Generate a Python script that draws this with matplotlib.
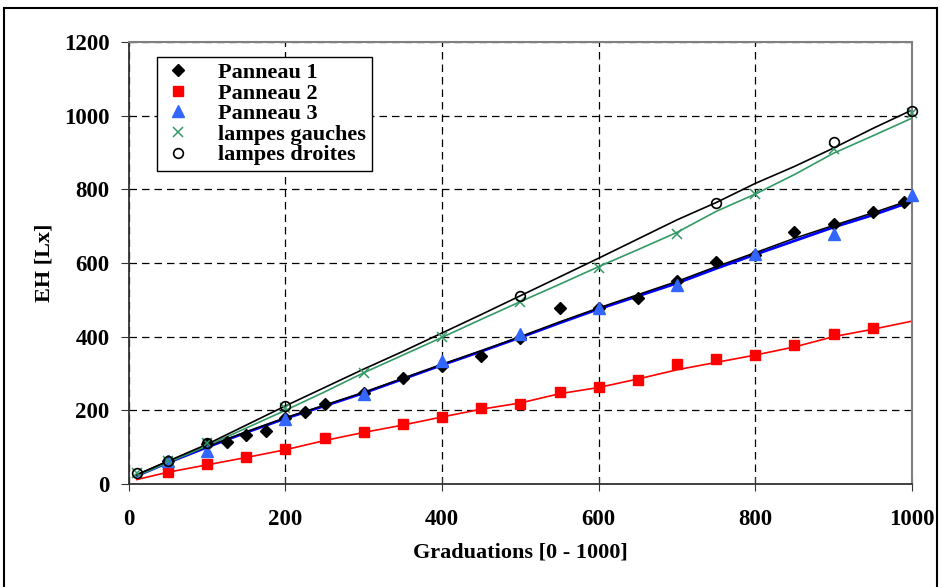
import matplotlib.pyplot as plt
from matplotlib.patches import Rectangle

plt.rcParams['font.family'] = ['Liberation Serif', 'DejaVu Serif']
plt.rcParams['font.weight'] = 'bold'

# measured points
x_p1 = [50, 100, 125, 150, 175, 200, 225, 250, 300, 350, 400, 450, 500, 550,
        600, 650, 700, 750, 800, 850, 900, 950, 990]
y_p1 = [62, 108, 113, 133, 145, 178, 196, 217, 248, 288, 320, 348, 396, 477,
        478, 506, 551, 602, 622, 685, 705, 738, 766]

x_p2 = [50, 100, 150, 200, 250, 300, 350, 400, 450, 500, 550, 600, 650, 700,
        750, 800, 850, 900, 950]
y_p2 = [33, 55, 74, 94, 124, 141, 162, 183, 207, 218, 251, 264, 283, 327,
        340, 351, 377, 408, 424]

x_p3 = [50, 100, 200, 300, 400, 500, 600, 700, 800, 900, 1000]
y_p3 = [62, 90, 176, 243, 334, 406, 478, 539, 625, 679, 784]

x_lg = [10, 50, 100, 200, 300, 400, 500, 600, 700, 800, 900, 1000]
y_lg = [31, 62, 110, 207, 302, 400, 495, 587, 678, 787, 910, 1008]

x_ld = [10, 50, 100, 200, 500, 750, 900, 1000]
y_ld = [31, 62, 110, 212, 511, 764, 928, 1013]

# smoothed curves
x_fit = [10, 50, 100, 150, 200, 250, 300, 350, 400, 450, 500, 550, 600, 650,
         700, 750, 800, 850, 900, 950, 1000]
fit_p1 = [25, 62, 102, 142, 180, 214, 249, 287, 325, 362, 400, 440, 478, 514,
          550, 590, 628, 667, 702, 736, 772]
fit_p2 = [12, 32, 52, 72, 93, 118, 140, 160, 182, 203, 220, 245, 262, 285,
          310, 330, 350, 372, 400, 420, 442]
fit_p3 = [22, 58, 100, 140, 178, 212, 247, 285, 323, 360, 398, 437, 475, 510,
          545, 585, 623, 660, 697, 730, 767]
fit_lg = [22, 58, 104, 152, 200, 250, 302, 350, 398, 447, 495, 542, 590, 636,
          683, 740, 787, 840, 898, 945, 993]
fit_ld = [25, 62, 108, 160, 212, 262, 312, 360, 410, 460, 511, 562, 613, 665,
          717, 764, 816, 862, 912, 965, 1015]

fig = plt.figure(figsize=(9.41, 5.87), dpi=100)
fig.patches.append(Rectangle((0.004, -0.02), 0.992, 1.006, transform=fig.transFigure,
                             fill=False, edgecolor='black', linewidth=1.5))
ax = fig.add_axes([0.137, 0.1755, 0.832, 0.753])

green = '#339966'
ax.plot(x_fit, fit_p2, color='#ff0000', lw=1.2, zorder=2)
ax.plot(x_fit, fit_p3, color='#0000ff', lw=2.0, zorder=2)
ax.plot(x_fit, fit_p1, color='black', lw=1.1, zorder=2)
ax.plot(x_fit, fit_lg, color=green, lw=1.2, zorder=2)
ax.plot(x_fit, fit_ld, color='black', lw=1.2, zorder=2)

ax.plot(x_p1, y_p1, 'D', color='black', ms=6.5, label='Panneau 1', zorder=3, clip_on=False)
ax.plot(x_p2, y_p2, 's', color='#ff0000', ms=6.5, label='Panneau 2', zorder=3, clip_on=False)
ax.plot(x_p3, y_p3, '^', color='#3366ff', ms=8, label='Panneau 3', zorder=3, clip_on=False)
ax.plot(x_lg, y_lg, 'x', color=green, ms=7, mew=1.1, label='lampes gauches', zorder=3, clip_on=False)
ax.plot(x_ld, y_ld, 'o', mfc='none', mec='black', ms=7, mew=1.2, label='lampes droites',
        zorder=4, clip_on=False)

ax.set_xlim(0, 1000)
ax.set_ylim(0, 1200)
ax.set_xticks(range(0, 1001, 200))
ax.set_yticks(range(0, 1201, 200))
ax.grid(True, color='black', linestyle=(0, (6, 4)), linewidth=0.9)
ax.set_axisbelow(True)

for s in ['left', 'bottom']:
    ax.spines[s].set_color('#333333')
    ax.spines[s].set_linewidth(1.3)
for s in ['top', 'right']:
    ax.spines[s].set_color('#808080')
    ax.spines[s].set_linewidth(1.5)

ax.tick_params(axis='y', direction='out', length=6, pad=8, labelsize=16.5, color='#333333')
ax.tick_params(axis='x', direction='inout', length=10, pad=13, labelsize=16.5, color='#333333')

ax.set_xlabel('Graduations [0 - 1000]', fontsize=16, fontweight='bold', labelpad=9)
ax.set_ylabel('EH [Lx]', fontsize=16, fontweight='bold', labelpad=7)

leg = ax.legend(loc='upper left', bbox_to_anchor=(0.036, 0.966), borderaxespad=0,
                fontsize=16, frameon=True, fancybox=False, framealpha=1,
                edgecolor='black', labelspacing=0.0, handletextpad=1.1,
                handlelength=1.4, borderpad=0.25)
leg.get_frame().set_linewidth(1.0)

fig.savefig('out.png', dpi=100)
